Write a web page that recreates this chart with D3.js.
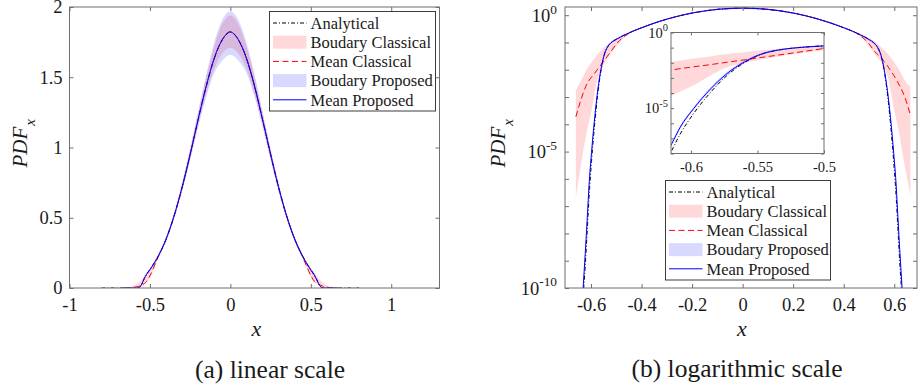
<!DOCTYPE html>
<html>
<head>
<meta charset="utf-8">
<script src="https://d3js.org/d3.v7.min.js"></script>
<style>
  body { margin:0; background:#fff; }
  svg text { font-family: "Liberation Serif", "Times New Roman", serif; fill:#1a1a1a; }
</style>
</head>
<body>
<svg id="chart" width="921" height="387"></svg>
<script>
// ---- data ----
var xAnalytical = [-0.8,-0.7,-0.64,-0.632,-0.623,-0.6144,-0.608,-0.598,-0.585,-0.573,-0.56,-0.548,-0.535,-0.522,-0.5,
  -0.45,-0.4,-0.35,-0.3,-0.25,-0.2,-0.15,-0.1,-0.05,0,0.05,0.1,0.15,0.2,0.25,0.3,0.35,0.4,0.45,
  0.5,0.522,0.535,0.548,0.56,0.573,0.585,0.598,0.608,0.6144,0.623,0.632,0.64,0.7,0.8];
var pdfAnalytical = [0,0,1e-12,3.5e-11,6.3e-10,1.6e-8,2.0e-7,4.4e-6,1.17e-4,1.41e-3,0.0100,0.0347,0.0676,0.0955,0.132,
  0.224,0.347,0.512,0.716,0.951,1.200,1.437,1.635,1.767,1.820,1.767,1.635,1.437,1.200,0.951,0.716,0.512,0.347,0.224,
  0.130,0.091,0.064,0.032,0.0095,1.3e-3,1.1e-4,4.0e-6,1.9e-7,1.5e-8,5.5e-10,3.0e-11,1e-12,0,0];

var xProposed = [-0.67,-0.632,-0.623,-0.6144,-0.608,-0.598,-0.585,-0.573,-0.56,-0.548,-0.535,-0.522,-0.5,
  -0.45,-0.4,-0.35,-0.3,-0.25,-0.2,-0.15,-0.1,-0.05,0,0.05,0.1,0.15,0.2,0.25,0.3,0.35,0.4,0.45,
  0.5,0.522,0.535,0.548,0.56,0.573,0.585,0.598,0.608,0.6144,0.623,0.632,0.67];
var meanProposed = [0,7.9e-11,1.8e-9,4.5e-8,5.6e-7,9.3e-6,1.95e-4,1.9e-3,0.0112,0.0347,0.0676,0.0955,0.130,
  0.223,0.346,0.513,0.717,0.950,1.201,1.436,1.636,1.768,1.822,1.766,1.634,1.438,1.199,0.952,0.715,0.511,0.348,0.225,
  0.128,0.092,0.064,0.033,0.0105,1.7e-3,1.8e-4,8.5e-6,5.0e-7,4.0e-8,1.6e-9,7.0e-11,0];
var lowProposed = [0,6.0e-11,1.35e-9,3.4e-8,4.2e-7,7.0e-6,1.5e-4,1.45e-3,0.0088,0.029,0.059,0.086,0.120,
  0.210,0.330,0.490,0.685,0.910,1.145,1.360,1.530,1.620,1.660,1.620,1.530,1.362,1.146,0.911,0.684,0.489,0.331,0.211,
  0.118,0.082,0.055,0.027,0.0082,1.3e-3,1.4e-4,6.4e-6,3.8e-7,3.0e-8,1.2e-9,5.3e-11,0];
var highProposed = [0,1.05e-10,2.4e-9,6.0e-8,7.4e-7,1.23e-5,2.6e-4,2.5e-3,0.0142,0.041,0.077,0.106,0.142,
  0.238,0.366,0.537,0.752,0.998,1.262,1.520,1.750,1.910,1.970,1.908,1.748,1.522,1.260,0.997,0.750,0.536,0.367,0.239,
  0.140,0.103,0.074,0.040,0.0135,2.3e-3,2.4e-4,1.12e-5,6.6e-7,5.3e-8,2.1e-9,9.3e-11,0];

var xClassical = [-0.66,-0.64,-0.615,-0.598,-0.585,-0.573,-0.56,-0.548,-0.535,-0.522,-0.5,
  -0.45,-0.4,-0.35,-0.3,-0.25,-0.2,-0.15,-0.1,-0.05,0,0.05,0.1,0.15,0.2,0.25,0.3,0.35,0.4,0.45,
  0.5,0.522,0.535,0.548,0.56,0.573,0.585,0.598,0.615,0.64,0.664];
var meanClassical = [1.9e-4,7.9e-4,3.2e-3,5.4e-3,7.6e-3,0.0107,0.0155,0.0219,0.0316,0.0457,0.087,
  0.218,0.345,0.511,0.715,0.950,1.200,1.436,1.634,1.768,1.825,1.766,1.636,1.437,1.199,0.951,0.716,0.512,0.346,0.219,
  0.090,0.047,0.036,0.028,0.020,0.014,9.5e-3,6.3e-3,3.3e-3,1.1e-3,2.2e-4];
var lowClassical = [2.0e-7,3.2e-6,6.3e-5,3.2e-4,1.48e-3,5.0e-3,0.010,0.0158,0.0251,0.038,0.071,
  0.206,0.333,0.495,0.692,0.920,1.160,1.380,1.560,1.670,1.710,1.668,1.562,1.381,1.158,0.921,0.693,0.496,0.334,0.207,
  0.074,0.039,0.027,0.019,0.012,6.0e-3,1.9e-3,4.0e-4,7.5e-5,3.5e-6,2.5e-7];
var highClassical = [1.78e-3,4.0e-3,0.0112,0.019,0.027,0.038,0.050,0.066,0.085,0.107,0.141,
  0.232,0.358,0.528,0.740,0.982,1.245,1.500,1.720,1.880,1.940,1.878,1.722,1.502,1.244,0.983,0.741,0.529,0.359,0.233,
  0.143,0.110,0.088,0.069,0.053,0.040,0.029,0.020,0.012,4.3e-3,2.3e-3];

var linXTicks = [-1,-0.5,0,0.5,1];
var linYTicks = [0,0.5,1,1.5,2];
var logXTicks = [-0.6,-0.4,-0.2,0,0.2,0.4,0.6];
var logYTicks = [1e-10,1e-9,1e-8,1e-7,1e-6,1e-5,1e-4,1e-3,1e-2,1e-1,1];
var logYLabels = [[1,"0"],[1e-5,"-5"],[1e-10,"-10"]];
var insetXTicks = [-0.6,-0.55,-0.5];
var insetYTicks = [1e-8,1e-7,1e-6,1e-5,1e-4,1e-3,1e-2,1e-1,1];
var insetYLabels = [[1,"0"],[1e-5,"-5"]];
var legendLabels = ["Analytical","Boudary Classical","Mean Classical","Boudary Proposed","Mean Proposed"];

// ---- drawing ----
var svg = d3.select("#chart");
var defs = svg.append("defs");
var axisColor = "#6e6e6e";

function pts(xs, ys) { return xs.map(function(v,i){ return {x:v, v:ys[i]}; }); }
function band(xs, lo, hi) { return xs.map(function(v,i){ return {x:v, lo:lo[i], hi:hi[i]}; }); }

function frame(id, x, y, bg) {
  var x0 = x.range()[0], x1 = x.range()[1], y0 = y.range()[1], y1 = y.range()[0];
  defs.append("clipPath").attr("id", id).append("rect")
    .attr("x", x0).attr("y", y0).attr("width", x1 - x0).attr("height", y1 - y0);
  if (bg) svg.append("rect").attr("x", x0).attr("y", y0).attr("width", x1 - x0).attr("height", y1 - y0).attr("fill", "#fff");
  return {x0:x0, x1:x1, y0:y0, y1:y1};
}

function curves(id, x, y, isLog) {
  var ok = function(v){ return !isLog || v > 0; };
  var line = d3.line().defined(function(d){ return ok(d.v); })
    .x(function(d){ return x(d.x); }).y(function(d){ return y(d.v); }).curve(d3.curveMonotoneX);
  var area = d3.area().defined(function(d){ return ok(d.lo) && ok(d.hi); })
    .x(function(d){ return x(d.x); }).y0(function(d){ return y(d.lo); }).y1(function(d){ return y(d.hi); })
    .curve(d3.curveMonotoneX);
  var g = svg.append("g").attr("clip-path", "url(#" + id + ")");
  g.append("path").datum(pts(xAnalytical, pdfAnalytical)).attr("d", line)
    .attr("fill","none").attr("stroke","#000").attr("stroke-width",1).attr("stroke-dasharray","4,2,1,2");
  g.append("path").datum(band(xClassical, lowClassical, highClassical)).attr("d", area)
    .attr("fill","#ff0000").attr("fill-opacity",0.15);
  g.append("path").datum(pts(xClassical, meanClassical)).attr("d", line)
    .attr("fill","none").attr("stroke","#ff0000").attr("stroke-width",1).attr("stroke-dasharray","6,3.5");
  g.append("path").datum(band(xProposed, lowProposed, highProposed)).attr("d", area)
    .attr("fill","#0000ff").attr("fill-opacity",0.15);
  g.append("path").datum(pts(xProposed, meanProposed)).attr("d", line)
    .attr("fill","none").attr("stroke","#0000ff").attr("stroke-width",1);
}

function axes(r, x, y, xt, yt, fs, tl, showY) {
  var b = svg.append("g").attr("transform","translate(0," + r.y1 + ")")
    .call(d3.axisBottom(x).tickValues(xt).tickSizeInner(-tl).tickSizeOuter(0).tickPadding(fs*0.55)
      .tickFormat(function(d){ return String(d); }));
  var t = svg.append("g").attr("transform","translate(0," + r.y0 + ")")
    .call(d3.axisTop(x).tickValues(xt).tickSizeInner(-tl).tickSizeOuter(0).tickFormat(""));
  var l = svg.append("g").attr("transform","translate(" + r.x0 + ",0)")
    .call(d3.axisLeft(y).tickValues(yt).tickSizeInner(-tl).tickSizeOuter(0).tickPadding(7)
      .tickFormat(showY ? function(d){ return String(d); } : ""));
  var rr = svg.append("g").attr("transform","translate(" + r.x1 + ",0)")
    .call(d3.axisRight(y).tickValues(yt).tickSizeInner(-tl).tickSizeOuter(0).tickFormat(""));
  [b,t,l,rr].forEach(function(g){
    g.attr("color", axisColor).attr("font-family", null).attr("font-size", fs);
    g.select(".domain").remove();
    g.selectAll("text").attr("fill","#1a1a1a");
  });
  svg.append("rect").attr("x", r.x0).attr("y", r.y0).attr("width", r.x1 - r.x0).attr("height", r.y1 - r.y0)
    .attr("fill","none").attr("stroke", axisColor).attr("stroke-width",1);
}

function powLabels(r, y, labels, fs, gap) {
  labels.forEach(function(p){
    var t = svg.append("text").attr("x", r.x0 - gap).attr("y", y(p[0]) + fs*0.36)
      .attr("text-anchor","end").attr("font-size", fs);
    t.append("tspan").text("10");
    t.append("tspan").attr("dy", -fs*0.45).attr("font-size", fs*0.72).text(p[1]);
  });
}

function yLabel(px, py) {
  var t = svg.append("text").attr("transform","translate(" + px + "," + py + ") rotate(-90)")
    .attr("font-size", 21).attr("font-style","italic");
  t.append("tspan").text("PDF");
  t.append("tspan").attr("dy", 8).attr("dx", 1).attr("font-size", 15).text("x");
}

function legend(x0, y0, w, h, step) {
  svg.append("rect").attr("x", x0).attr("y", y0).attr("width", w).attr("height", h)
    .attr("fill","#fff").attr("stroke","#3c3c3c").attr("stroke-width",1);
  legendLabels.forEach(function(lab, i){
    var cy = y0 + 11.5 + i * step, sx = x0 + 3.5, ex = x0 + 37;
    if (i === 1 || i === 3) {
      svg.append("rect").attr("x", sx).attr("y", cy - 6.5).attr("width", ex - sx).attr("height", 13)
        .attr("fill", i === 1 ? "#ff0000" : "#0000ff").attr("fill-opacity", 0.15);
    } else {
      svg.append("line").attr("x1", sx).attr("x2", ex).attr("y1", cy).attr("y2", cy)
        .attr("stroke", ["#000",null,"#ff0000",null,"#0000ff"][i]).attr("stroke-width",1)
        .attr("stroke-dasharray", ["4,2,1,2",null,"6,3.5",null,null][i]);
    }
    svg.append("text").attr("x", ex + 4).attr("y", cy).attr("dy","0.35em").attr("font-size", 16.5).text(lab);
  });
}

// (a) linear scale
var xa = d3.scaleLinear().domain([-1, 1.3]).range([69.5, 439.5]);
var ya = d3.scaleLinear().domain([0, 2]).range([288, 7]);
var ra = frame("clipA", xa, ya, false);
curves("clipA", xa, ya, false);
axes(ra, xa, ya, linXTicks, linYTicks, 18.5, 4, true);
yLabel(27, 167.5);
svg.append("text").attr("x", (ra.x0 + ra.x1) / 2 + 2).attr("y", 336).attr("text-anchor","middle")
  .attr("font-size", 22).attr("font-style","italic").text("x");
svg.append("text").attr("x", 270).attr("y", 378).attr("text-anchor","middle").attr("font-size", 25.5)
  .text("(a) linear scale");
legend(269.5, 11.5, 166, 99.5, 19.2);

// (b) logarithmic scale
var xb = d3.scaleLinear().domain([-0.703, 0.69]).range([565, 917]);
var yb = d3.scaleLog().domain([1e-10, 2]).range([288, 7]);
var rb = frame("clipB", xb, yb, false);
curves("clipB", xb, yb, true);
axes(rb, xb, yb, logXTicks, logYTicks, 18.5, 4, false);
powLabels(rb, yb, logYLabels, 18.5, 8);
yLabel(505, 167.5);
svg.append("text").attr("x", (rb.x0 + rb.x1) / 2 + 1).attr("y", 336).attr("text-anchor","middle")
  .attr("font-size", 22).attr("font-style","italic").text("x");
svg.append("text").attr("x", 737).attr("y", 377).attr("text-anchor","middle").attr("font-size", 25.5)
  .text("(b) logarithmic scale");

// inset
var xi = d3.scaleLinear().domain([-0.615, -0.5]).range([671, 824]);
var yi = d3.scaleLog().domain([1e-8, 1]).range([153.5, 32.5]);
var ri = frame("clipI", xi, yi, true);
curves("clipI", xi, yi, true);
axes(ri, xi, yi, insetXTicks, insetYTicks, 14.5, 3, false);
powLabels(ri, yi, insetYLabels, 14.5, 3);

legend(665.5, 180.5, 165, 99.5, 19.2);
</script>
</body>
</html>
